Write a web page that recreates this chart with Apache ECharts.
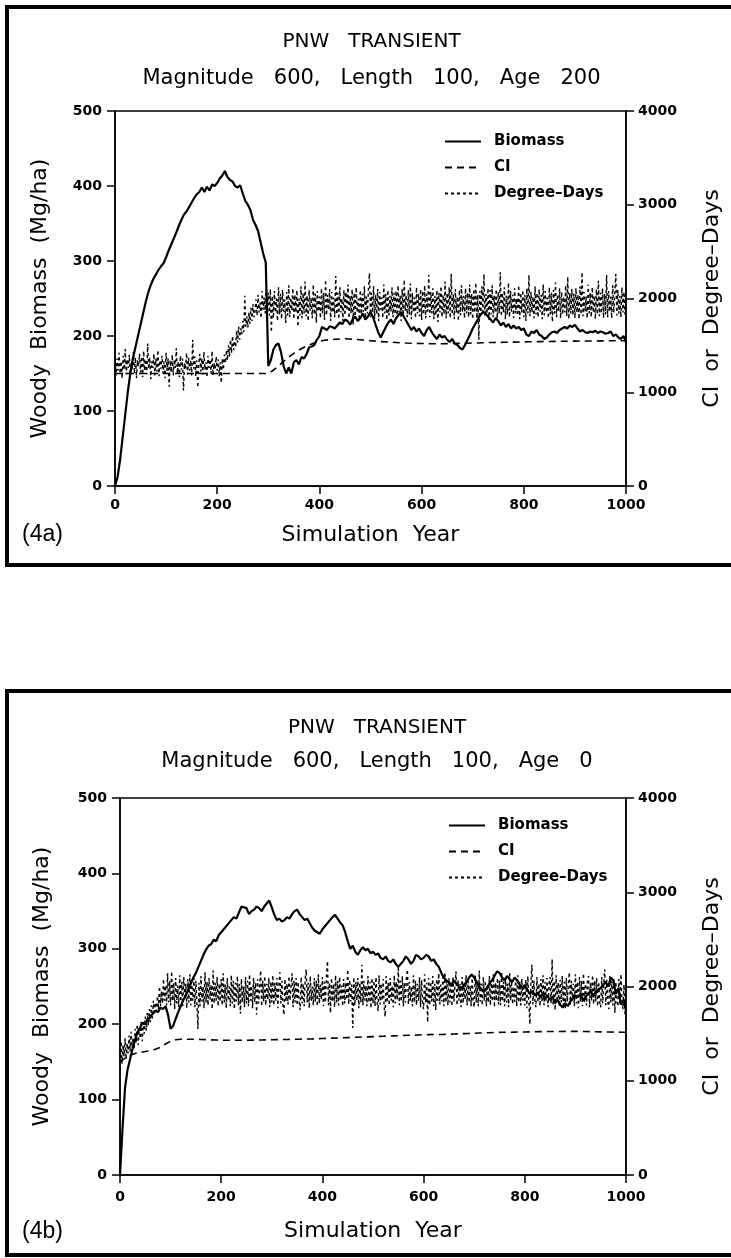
<!DOCTYPE html>
<html>
<head>
<meta charset="utf-8">
<script src="https://cdn.jsdelivr.net/npm/echarts@6/dist/echarts.min.js"></script>
<style>
html,body{margin:0;padding:0;background:#fff;}
#chart{width:731px;height:1258px;}
</style>
</head>
<body>
<div id="chart"></div>
<script>
// ---------- DATA ----------
const xTicks = [0, 200, 400, 600, 800, 1000];
const seriesNames = ['Biomass', 'CI', 'Degree\u2013Days'];
const bioStep = 5, ciStep = 10, ddStep = 2;   // years between samples

// Panel (4a): Magnitude 600, Length 100, Age 200
const biomassA = [
  0,12,35,65,95,125,150,170,185,200,
  215,230,245,258,268,276,282,288,293,297,
  305,314,322,330,338,347,355,362,366,372,
  378,384,389,392,398,392,399,394,402,400,
  404,410,414,420,412,408,406,400,398,401,
  390,380,375,368,355,348,340,325,310,298,
  160,168,182,188,190,178,160,150,158,150,
  165,168,162,172,170,176,185,186,188,195,
  200,212,210,208,213,212,210,214,218,216,
  222,220,215,222,226,220,224,230,222,226,
  232,225,215,205,198,205,212,218,222,216,
  224,228,232,226,220,214,208,212,206,210,
  204,200,208,212,205,200,196,202,198,200,
  195,192,196,190,188,184,182,188,195,202,
  210,216,222,228,232,230,226,222,218,224,
  220,214,218,212,216,210,214,210,212,208,
  210,202,200,206,204,208,202,200,196,198,
  202,205,206,204,208,210,212,210,214,212,
  215,210,206,208,205,204,206,205,207,204,
  206,205,203,204,206,200,202,198,196,200,
  192
];
const ciA = [
  1200,1200,1200,1200,1200,1200,1200,1200,1200,1200,
  1200,1200,1200,1200,1200,1200,1200,1200,1200,1200,
  1200,1200,1200,1200,1200,1200,1200,1200,1200,1200,
  1200,1235,1280,1330,1375,1415,1450,1480,1505,1525,
  1545,1555,1560,1565,1568,1570,1568,1565,1560,1555,
  1550,1545,1540,1537,1534,1531,1528,1525,1523,1521,
  1520,1519,1518,1518,1518,1519,1520,1521,1522,1523,
  1525,1526,1528,1530,1531,1532,1533,1534,1535,1536,
  1537,1538,1539,1540,1541,1542,1543,1543,1544,1545,
  1545,1546,1546,1547,1547,1548,1548,1549,1549,1550,
  1550
];
const degreeDaysA = [
  1400,1180,1360,1230,1420,1200,1330,1150,1390,1240,1460,1190,1350,1260,1400,1170,1320,1250,1430,1200,1370,1150,1340,1280,1410,
  1210,1380,1160,1440,1230,1350,1190,1520,1250,1370,1140,1330,1260,1410,1180,1360,1220,1450,1170,1340,1250,1390,1200,1330,1150,
  1420,1230,1360,1060,1340,1210,1400,1180,1350,1260,1470,1200,1330,1160,1390,1240,1360,1020,1310,1250,1420,1190,1370,1230,1340,
  1180,1560,1250,1380,1170,1340,1050,1300,1410,1220,1360,1190,1430,1240,1320,1160,1390,1260,1350,1200,1440,1180,1310,1250,1380,
  1230,1350,1170,1320,1100,1360,1240,1400,1310,1450,1340,1500,1380,1560,1420,1600,1450,1550,1480,1650,1530,1700,1560,1680,1620,
  1760,1640,2030,1700,1810,1690,1850,1730,1900,1760,1940,1800,1870,1990,1820,2040,1850,1960,1790,2080,1880,2010,1840,2120,1900,
  2060,1820,2100,1640,2030,1790,2080,1850,2000,1760,2120,1830,2050,1780,2090,1860,1990,1740,2070,1820,2140,1800,2010,1870,2110,
  1780,2040,1850,2090,1700,2000,1820,2130,1790,2060,1840,2180,1810,2030,1760,2090,1870,2010,1790,2150,1830,2050,1740,2080,1860,
  2020,1790,2110,1840,2060,1770,2200,1820,2040,1880,2100,1760,2070,1850,2010,1800,2240,1830,2060,1780,2120,1850,2000,1760,2090,
  1820,2070,1870,2150,1790,2030,1840,2100,1720,2060,1810,2120,1850,2000,1770,2090,1830,2050,1860,2130,1790,2020,1840,2110,2270,
  1800,2060,1850,2130,1780,2040,1830,2100,1760,2070,1880,2010,1790,2150,1840,2050,1770,2090,1820,2030,1860,2120,1800,2060,1830,
  2080,1790,2140,1850,2030,1760,2100,1820,2200,1870,2040,1800,2090,1830,2160,1780,2060,1850,2010,1790,2120,1840,2050,1810,2100,
  1770,2080,1830,2140,1790,2050,1860,2250,1800,2070,1840,2110,1780,2030,1820,2090,1750,2060,1850,2130,1800,2040,1830,2180,1790,
  2060,1840,2120,1790,2260,1830,2040,1780,2100,1850,2020,1760,2090,1820,2140,1860,2030,1790,2110,1840,2060,1800,2150,1830,2050,
  1780,2100,1850,2170,1790,2040,1560,2080,1820,2130,1860,2260,1810,2050,1840,2110,1770,2090,1830,2140,1800,2030,1850,2100,1790,
  2070,1840,2280,1810,2060,1850,2120,1780,2030,1830,2170,1800,2080,1860,2040,1790,2110,1840,2000,1820,2140,1780,2060,1850,2090,
  1800,2040,1760,2110,1840,2250,1810,2070,1850,2020,1790,2130,1830,2060,1800,2100,1860,2040,1780,2150,1820,2080,1850,2010,1790,
  2120,1830,2060,1750,2090,1840,2170,1800,2040,1860,2110,1790,2070,1830,2020,1850,2140,1810,2230,1780,2060,1840,2100,1820,2050,
  1790,2110,1850,2040,1780,2130,1830,2280,1810,2070,1860,2020,1790,2150,1840,2060,1800,2120,1850,2030,1780,2100,1830,2190,1810,
  2060,1840,2110,1790,2050,1830,2250,1800,2080,1860,2020,1790,2140,1850,2060,2260,1820,2090,1840,2030,1800,2120,1850,2070,1830,
  1920
];

// Panel (4b): Magnitude 600, Length 100, Age 0
const biomassB = [
  0,62,116,140,154,168,180,190,196,202,
  200,206,210,214,218,216,222,220,224,212,
  194,198,207,216,224,232,238,246,254,262,
  268,276,284,292,299,304,306,312,310,318,
  322,326,330,334,338,342,340,348,356,355,
  354,346,350,352,356,354,350,356,360,364,
  355,345,338,340,336,338,342,340,346,350,
  352,346,342,338,340,334,328,324,322,320,
  326,330,334,338,342,345,340,335,331,322,
  310,300,304,296,292,298,302,298,300,294,
  296,292,294,288,286,290,284,282,286,280,
  276,280,284,290,286,280,284,292,290,286,
  288,292,290,284,286,280,276,268,262,258,
  256,252,258,254,250,248,252,256,262,266,
  262,256,250,246,244,248,254,258,264,270,
  268,262,258,264,260,256,262,258,252,248,
  252,246,240,244,238,242,236,240,234,238,
  232,236,228,232,226,222,228,224,230,234,
  238,236,240,232,236,240,244,238,242,246,
  248,252,256,250,262,258,240,248,226,232,
  218
];
const ciB = [
  1200,1240,1270,1290,1300,1310,1320,1335,1355,1390,
  1420,1435,1440,1440,1440,1440,1438,1436,1434,1432,
  1430,1430,1430,1430,1430,1430,1431,1432,1433,1434,
  1435,1436,1437,1438,1440,1441,1442,1443,1444,1446,
  1448,1450,1452,1454,1456,1458,1460,1462,1464,1466,
  1468,1470,1472,1474,1476,1478,1480,1482,1484,1486,
  1488,1489,1490,1491,1492,1494,1496,1498,1500,1502,
  1504,1506,1508,1510,1512,1513,1514,1515,1516,1517,
  1518,1519,1520,1521,1522,1522,1523,1523,1524,1524,
  1524,1523,1522,1521,1520,1519,1518,1517,1516,1515,
  1515
];
const degreeDaysB = [
  1250,1420,1180,1380,1260,1450,1230,1400,1290,1480,1310,1520,1350,1460,1330,1550,1400,1600,1380,1560,1450,1640,1420,1620,1500,
  1680,1530,1720,1590,1760,1620,1800,1660,1850,1700,1830,1740,1900,1760,2000,1790,1950,1820,2080,1850,2010,1800,2140,1830,2060,
  1800,2160,1850,2040,1760,2090,1820,2010,1780,2120,1840,2050,1790,2100,1860,2030,1770,2080,1830,2130,1800,2020,1850,2090,1780,
  2060,1820,1550,2040,1790,2110,1840,2000,1770,2150,1830,2050,1800,2090,1860,2020,1760,2170,1820,2040,1850,2100,1790,2030,1840,
  2080,1800,2140,1830,2020,1770,2090,1850,2000,1790,2120,1820,2060,1760,2040,1840,2110,1800,2030,1710,2080,1830,2000,1780,2100,
  1820,2060,1790,2130,1850,2010,1770,2090,1830,2040,1700,2080,1820,2000,2170,1790,2060,1840,2110,1800,2030,1860,2090,1780,2050,
  1830,2120,1800,2040,1850,2090,1770,2010,2150,1820,2060,1790,1700,2080,1840,2030,1810,2110,1850,2000,2140,1780,2060,1830,2090,
  1800,2050,1840,1750,2100,1820,2030,1790,2080,2180,1830,2040,1770,2110,1850,2000,1800,2090,1840,2060,1790,2130,1820,2020,1860,
  2100,1790,2050,1830,2110,2270,1800,2040,1720,2090,1840,2030,1780,2120,1830,2060,1800,2100,1850,2010,1790,2080,1820,2040,1860,
  2180,1810,2070,1840,2020,1560,2100,1800,2050,1850,2090,1770,2040,1830,2230,1800,2060,1850,2010,1790,2110,1830,2050,1770,2090,
  1820,2060,1790,2100,1840,1740,2120,1810,2030,1850,2080,1790,1680,2110,1830,2040,1800,2090,1850,2010,1780,2120,1820,2050,1860,
  2220,1800,2060,1840,2110,1790,2040,1830,2090,2180,1810,2050,1850,2000,1790,2120,1830,2060,1800,2030,1850,2100,1780,2070,1820,
  1760,2130,1830,2040,1620,2090,1800,2050,1840,2110,1790,2030,1750,2080,1850,2140,1810,2020,1840,2100,1790,2150,1830,2060,1800,
  2090,1830,2050,1790,2110,1840,2020,2160,1800,2070,1850,2030,1780,2100,1820,2040,1860,2120,1800,2060,1830,2010,1790,2090,1840,
  1780,2120,1830,2050,1790,2170,1840,2030,1800,2100,1850,2060,1790,2020,1830,2110,1800,2070,1840,2130,1780,2040,1850,2090,1810,
  2060,1800,2160,1840,2050,1790,2100,1830,2030,1780,2140,1850,2060,1810,2000,1840,2090,1790,2120,1830,2050,1800,2080,1850,2020,
  1800,2070,1770,2110,1840,1600,2040,2230,1810,2060,1850,1780,2100,1830,2030,1790,2080,1840,2120,1800,2050,1850,2090,1780,2030,
  2100,1820,2290,1800,2060,1750,2120,1840,2040,1790,2070,1830,2110,1800,2050,1760,2090,1840,2020,2150,1810,2060,1850,2030,1790,
  2130,1820,2050,1770,2100,1840,2060,1790,2140,1830,2030,1800,2080,2110,1780,2040,1850,2120,1810,2060,1840,2090,1790,2050,1830,
  1780,2100,1820,2040,2180,1800,2070,1840,1760,2120,1830,2060,1800,2090,1720,2050,1840,1790,2080,1810,2130,1850,1760,2020,1700,
  1760
];

// ---------- CHART ----------
function pairs(vals, step) { return vals.map((v, i) => [i * step, v]); }

const FONT = '"DejaVu Sans"';
const black = '#000';
const panels = [
  { left: 115, right: 628, top: 111, bottom: 486, frameTop: 7, frameBottom: 565,
    titleY: 42, subY: 79, labelMargin: 12, nameGap: 38, leftGap: 64, rightGap: 75, tagY: 535,
    legendTop: 134, legendLeft: 444,
    title: 'PNW   TRANSIENT', sub: 'Magnitude   600,   Length   100,   Age   200', tag: '(4a)',
    bio: biomassA, ci: ciA, dd: degreeDaysA },
  { left: 120, right: 634, top: 798, bottom: 1175, frameTop: 691, frameBottom: 1255,
    titleY: 728, subY: 762, labelMargin: 15, nameGap: 45, leftGap: 67, rightGap: 75, tagY: 1232,
    legendTop: 818, legendLeft: 448,
    title: 'PNW   TRANSIENT', sub: 'Magnitude   600,   Length   100,   Age   0', tag: '(4b)',
    bio: biomassB, ci: ciB, dd: degreeDaysB }
];

const grid = [], xAxis = [], yAxis = [], series = [], legend = [], graphic = [];
const lbl = { color: black, fontSize: 14, fontWeight: 'bold', fontFamily: FONT };
const nameStyle = { color: black, fontSize: 22, fontFamily: FONT };
const axLine = { show: true, lineStyle: { color: black, width: 1.5 } };
const axTick = { show: true, length: 8, lineStyle: { color: black, width: 1.5 } };
const plain = v => String(v);

panels.forEach((p, k) => {
  grid.push({ left: p.left, top: p.top, width: p.right - p.left, height: p.bottom - p.top, show: true,
    borderColor: black, borderWidth: 1.5, backgroundColor: 'transparent' });
  xAxis.push({ gridIndex: k, type: 'value', min: xTicks[0], max: xTicks[xTicks.length - 1], interval: 200,
    axisLine: axLine, axisTick: axTick,
    axisLabel: Object.assign({ margin: p.labelMargin, formatter: plain }, lbl),
    splitLine: { show: false },
    name: 'Simulation  Year', nameLocation: 'middle', nameGap: p.nameGap, nameTextStyle: nameStyle });
  yAxis.push({ gridIndex: k, type: 'value', min: 0, max: 500, interval: 100, position: 'left',
    axisLine: axLine, axisTick: axTick,
    axisLabel: Object.assign({ margin: 13, formatter: plain }, lbl),
    splitLine: { show: false },
    name: 'Woody  Biomass  (Mg/ha)', nameLocation: 'middle', nameGap: p.leftGap, nameTextStyle: nameStyle });
  yAxis.push({ gridIndex: k, type: 'value', min: 0, max: 4000, interval: 1000, position: 'right',
    axisLine: axLine, axisTick: axTick,
    axisLabel: Object.assign({ margin: 12, formatter: plain }, lbl),
    splitLine: { show: false },
    name: 'CI  or  Degree\u2013Days', nameLocation: 'middle', nameGap: p.rightGap, nameRotate: 90,
    nameTextStyle: nameStyle });

  const base = { type: 'line', xAxisIndex: k, showSymbol: false, symbol: 'none', animation: false, silent: true,
    itemStyle: { color: black } };
  series.push(Object.assign({}, base, { name: seriesNames[2], yAxisIndex: 2 * k + 1, z: 2,
    data: pairs(p.dd, ddStep), lineStyle: { color: black, width: 1.4, type: [3, 3] } }));
  series.push(Object.assign({}, base, { name: seriesNames[1], yAxisIndex: 2 * k + 1, z: 3,
    data: pairs(p.ci, ciStep), lineStyle: { color: black, width: 1.6, type: [7, 5] } }));
  series.push(Object.assign({}, base, { name: seriesNames[0], yAxisIndex: 2 * k, z: 4,
    data: pairs(p.bio, bioStep), lineStyle: { color: black, width: 2.2 } }));

  legend.push({ data: seriesNames, orient: 'vertical', left: p.legendLeft, top: p.legendTop, itemGap: 11,
    itemWidth: 36, itemHeight: 14, selectedMode: false, padding: 0,
    itemStyle: { opacity: 0 },
    textStyle: { color: black, fontSize: 15, fontWeight: 'bold', fontFamily: FONT, padding: [0, 0, 0, 8] } });

  const cx = (p.left + p.right) / 2;
  graphic.push({ type: 'rect', silent: true,
    shape: { x: 7, y: p.frameTop, width: 760, height: p.frameBottom - p.frameTop },
    style: { fill: 'none', stroke: black, lineWidth: 4 } });
  graphic.push({ type: 'text', x: cx, y: p.titleY, silent: true,
    style: { text: p.title, fill: black, font: '20px ' + FONT, align: 'center', verticalAlign: 'middle' } });
  graphic.push({ type: 'text', x: cx, y: p.subY, silent: true,
    style: { text: p.sub, fill: black, font: '21px ' + FONT, align: 'center', verticalAlign: 'middle' } });
  graphic.push({ type: 'text', x: 22, y: p.tagY, silent: true,
    style: { text: p.tag, fill: black, font: '23px "Liberation Sans"', align: 'left', verticalAlign: 'middle' } });
});

const chart = echarts.init(document.getElementById('chart'), null, { renderer: 'canvas' });
chart.setOption({ animation: false, backgroundColor: '#fff', legend, grid, xAxis, yAxis, series, graphic });
</script>
</body>
</html>
